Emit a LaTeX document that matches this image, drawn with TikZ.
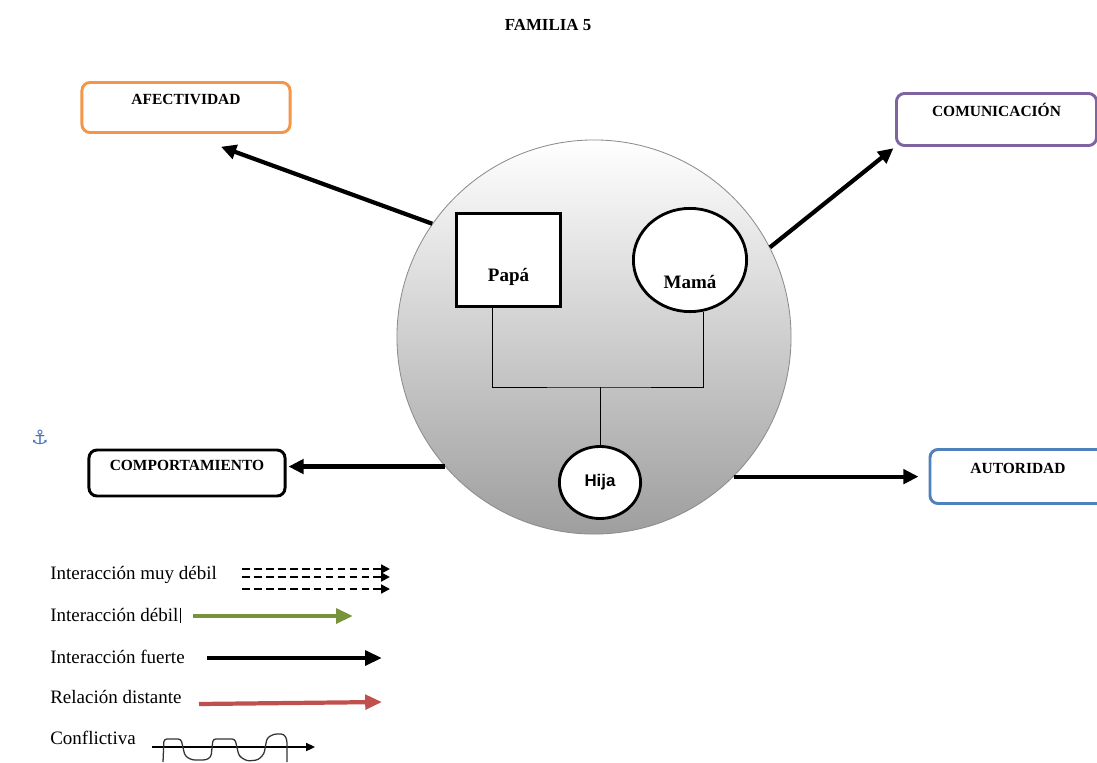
\documentclass[tikz,border=0pt]{standalone}
\usepackage{fontspec}
\setmainfont{Liberation Serif}
\newfontfamily\hijafont{Liberation Sans}
\newfontfamily\simbfont{DejaVu Sans}
\usetikzlibrary{shapes,arrows,arrows.meta}

\definecolor{naranja}{RGB}{243,150,72}
\definecolor{morado}{RGB}{128,100,162}
\definecolor{azul}{RGB}{79,129,189}
\definecolor{verde}{RGB}{119,147,60}
\definecolor{rojo}{RGB}{192,80,77}
\definecolor{ancla}{RGB}{70,115,185}

\tikzset{
  caja/.style={draw, line width=2.1pt, rounded corners=0.2cm, fill=white,
    font=\fontsize{11}{13}\selectfont\bfseries, text height=0.3cm, text depth=0.44cm, inner sep=0pt},
  persona/.style={draw, line width=2pt, fill=white, font=\fontsize{13.5}{16}\selectfont\bfseries},
  flecha/.style={line width=3pt, -{Triangle[length=0.38cm,width=0.36cm]}},
  muestra/.style={line width=3pt, -{Triangle[length=0.42cm,width=0.36cm]}},
  linea/.style={line width=0.7pt},
  leyenda/.style={anchor=base west, font=\fontsize{13.5}{16}\selectfont, inner sep=0pt},
}

\begin{document}
\begin{tikzpicture}[x=0.025cm,y=-0.025cm]
\useasboundingbox (0,0) rectangle (1097,762);
\node[font=\fontsize{12}{14}\selectfont\bfseries] (tit) at (548,25) {FAMILIA 5};

% circulo de la familia
\node[circle, draw=black!45, line width=0.6pt, top color=white, bottom color=black!38,
  minimum size=9.85cm, inner sep=0pt] (fam) at (594,337) {};
\node[persona, minimum width=2.6cm, minimum height=2.33cm, text height=1.07cm, text depth=0pt] (pap) at (508.5,260) {Papá};
\node[persona, ellipse, minimum width=2.83cm, minimum height=2.58cm, inner sep=1pt, text height=1.42cm, text depth=0pt] (mam) at (690,260) {Mamá};
\node[persona, ellipse, minimum width=2.03cm, minimum height=1.8cm, font=\hijafont\bfseries\fontsize{12}{14}\selectfont] (hij) at (600,482.5) {Hija};
\coordinate (jn) at (600,387);
\draw[linea] ([xshift=-0.41cm]pap.south) |- (jn) -| (mam.285);
\draw[linea] (jn) -- (hij.north);

% cajas
\node[caja, draw=naranja, minimum width=5.2cm, minimum height=1.25cm] (afe) at (186,107.5) {AFECTIVIDAD};
\node[caja, draw=morado, minimum width=5.0cm, minimum height=1.3cm] (com) at (996.5,119.5) {COMUNICACIÓN};
\node[caja, draw=black, minimum width=4.9cm, minimum height=1.15cm] (cmp) at (187,473) {COMPORTAMIENTO};
\node[caja, draw=azul, minimum width=4.4cm, minimum height=1.35cm] (aut) at (1018,476.5) {AUTORIDAD};
\draw[flecha, shorten >=0.93cm] (fam.145) -- (afe.south);
\draw[flecha, shorten >=0.05cm] (fam.27) -- (com.south west);
\draw[flecha, shorten >=0.05cm] (fam.221) -- (fam.221 -| cmp.east);
\draw[flecha, shorten >=0.25cm] (fam.315) -- (fam.315 -| aut.west);
%\draw[gray] (fam.center) -- (fam.north);

\node[text=ancla, font=\simbfont\fontsize{14}{15}\selectfont] (anc) at (40,437) {⚓};

% leyenda
\node[leyenda] (l1) at (50,579) {Interacción muy débil};
\node[leyenda] (l2) at (50,621) {Interacción débil};
\node[leyenda] (l3) at (50,663) {Interacción fuerte};
\node[leyenda] (l4) at (50,703) {Relación distante};
\node[leyenda] (l5) at (50,744) {Conflictiva};
\draw[line width=0.5pt] ([xshift=1.5pt]l2.north east) -- ([xshift=1.5pt,yshift=-1pt]l2.south east);
\foreach \y in {569,577,589}
  \draw[line width=1.4pt, dash pattern=on 5.5pt off 3pt, -{Triangle[length=0.22cm,width=0.22cm]}] (242,\y) -- (390,\y);
\draw[muestra, verde] (193,616) -- (353,616);
\draw[muestra, black] (207,658) -- (382,658);
\draw[muestra, rojo] (199,704) -- (382,702);
\draw[line width=1.1pt, -{Triangle[length=0.22cm,width=0.2cm]}] (152,747) -- (315,747);
\draw[line width=0.9pt, black!80, rounded corners=2pt] (163,762) -- (164,739) -- (181,739) -- (185,756) -- (192,760) -- (206,760) -- (211,757) -- (213,739) -- (235,739) -- (239,756) -- (247,761) -- (258,760) -- (264,754) -- (267,738) -- (274,734) -- (284,734) -- (287,740) -- (287,762);
\end{tikzpicture}
\end{document}
